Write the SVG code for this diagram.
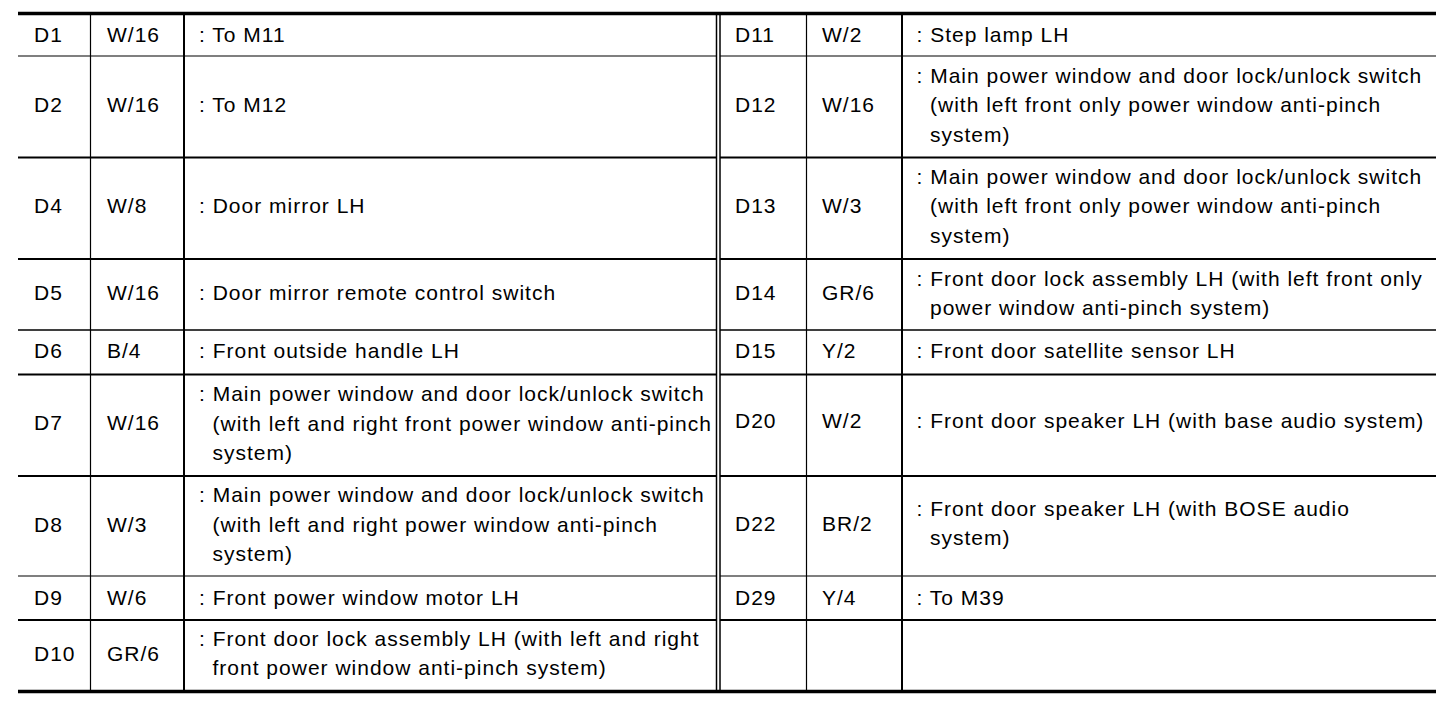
<svg xmlns="http://www.w3.org/2000/svg" width="1456" height="710" viewBox="0 0 1456 710">
<style>
text{font-family:"Liberation Sans",Arial,Helvetica,sans-serif;font-size:21px;letter-spacing:1px;fill:#000}
.rule{stroke:#000;fill:none}
.thick{stroke-width:3.5}
.med{stroke-width:2}
.thin{stroke-width:1.2}
.dbl{stroke-width:1.5}
</style>
<rect x="0" y="0" width="1456" height="710" fill="#fff"/>
<g id="grid" class="rule">
<line class="thick" x1="18" y1="13.5" x2="1436" y2="13.5"/>
<line class="thick" x1="18" y1="691.5" x2="1436" y2="691.5"/>
<line class="thin" x1="90.5" y1="15" x2="90.5" y2="690"/>
<line class="med" x1="184" y1="15" x2="184" y2="690"/>
<line class="dbl" x1="716.5" y1="15" x2="716.5" y2="690"/>
<line class="dbl" x1="720" y1="15" x2="720" y2="690"/>
<line class="thin" x1="806.5" y1="15" x2="806.5" y2="690"/>
<line class="med" x1="902" y1="15" x2="902" y2="690"/>
<path class="thin" d="M18 56H716.5M720 56H1436"/>
<path class="med" d="M18 157.5H716.5M720 157.5H1436"/>
<path class="med" d="M18 259H716.5M720 259H1436"/>
<path class="dbl" d="M18 330H716.5M720 330H1436"/>
<path class="med" d="M18 374.5H716.5M720 374.5H1436"/>
<path class="med" d="M18 476H716.5M720 476H1436"/>
<path class="thin" d="M18 576H716.5M720 576H1436"/>
<path class="med" d="M18 620H716.5M720 620H1436"/>
</g>
<g id="D1"><text x="34" y="42">D1</text><text x="107" y="42">W/16</text><text x="199" y="42">: To M11</text></g>
<g id="D2"><text x="34" y="112">D2</text><text x="107" y="112">W/16</text><text x="199" y="112">: To M12</text></g>
<g id="D4"><text x="34" y="213">D4</text><text x="107" y="213">W/8</text><text x="199" y="213">: Door mirror LH</text></g>
<g id="D5"><text x="34" y="300">D5</text><text x="107" y="300">W/16</text><text x="199" y="300">: Door mirror remote control switch</text></g>
<g id="D6"><text x="34" y="358">D6</text><text x="107" y="358">B/4</text><text x="199" y="358">: Front outside handle LH</text></g>
<g id="D7"><text x="34" y="430">D7</text><text x="107" y="430">W/16</text><text x="199" y="401">: Main power window and door lock/unlock switch</text><text x="212.5" y="430.5">(with left and right front power window anti-pinch</text><text x="212.5" y="460">system)</text></g>
<g id="D8"><text x="34" y="531.5">D8</text><text x="107" y="531.5">W/3</text><text x="199" y="502">: Main power window and door lock/unlock switch</text><text x="212.5" y="531.5">(with left and right power window anti-pinch</text><text x="212.5" y="561">system)</text></g>
<g id="D9"><text x="34" y="604.5">D9</text><text x="107" y="604.5">W/6</text><text x="199" y="604.5">: Front power window motor LH</text></g>
<g id="D10"><text x="34" y="660.5">D10</text><text x="107" y="660.5">GR/6</text><text x="199" y="645.5">: Front door lock assembly LH (with left and right</text><text x="212.5" y="675">front power window anti-pinch system)</text></g>
<g id="D11"><text x="735" y="42">D11</text><text x="822" y="42">W/2</text><text x="916.5" y="42">: Step lamp LH</text></g>
<g id="D12"><text x="735" y="112">D12</text><text x="822" y="112">W/16</text><text x="916.5" y="82.5">: Main power window and door lock/unlock switch</text><text x="930" y="112">(with left front only power window anti-pinch</text><text x="930" y="141.5">system)</text></g>
<g id="D13"><text x="735" y="213">D13</text><text x="822" y="213">W/3</text><text x="916.5" y="183.5">: Main power window and door lock/unlock switch</text><text x="930" y="213">(with left front only power window anti-pinch</text><text x="930" y="242.5">system)</text></g>
<g id="D14"><text x="735" y="300">D14</text><text x="822" y="300">GR/6</text><text x="916.5" y="285.5">: Front door lock assembly LH (with left front only</text><text x="930" y="315">power window anti-pinch system)</text></g>
<g id="D15"><text x="735" y="358">D15</text><text x="822" y="358">Y/2</text><text x="916.5" y="358">: Front door satellite sensor LH</text></g>
<g id="D20"><text x="735" y="428">D20</text><text x="822" y="428">W/2</text><text x="916.5" y="428">: Front door speaker LH (with base audio system)</text></g>
<g id="D22"><text x="735" y="531">D22</text><text x="822" y="531">BR/2</text><text x="916.5" y="515.5">: Front door speaker LH (with BOSE audio</text><text x="930" y="545">system)</text></g>
<g id="D29"><text x="735" y="604.5">D29</text><text x="822" y="604.5">Y/4</text><text x="916.5" y="604.5">: To M39</text></g>
</svg>
